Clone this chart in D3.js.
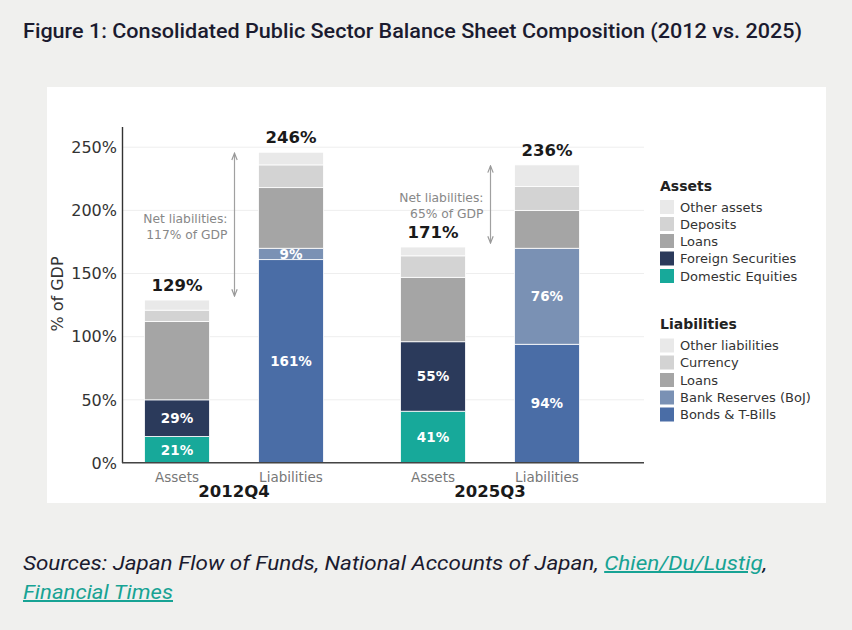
<!DOCTYPE html>
<html><head><meta charset="utf-8">
<script src="https://cdn.jsdelivr.net/npm/d3@7/dist/d3.min.js"></script>
<style>
html,body{margin:0;padding:0;background:#f0f0ee;}
svg{display:block;}
</style></head>
<body>
<svg id="c" width="852" height="630"></svg>
<script>
// ---- data ----
const groups = ["2012Q4", "2025Q3"];
const sides = ["Assets", "Liabilities"];
const assetSeries = ["Domestic Equities", "Foreign Securities", "Loans", "Deposits", "Other assets"];
const liabSeries = ["Bonds & T-Bills", "Bank Reserves (BoJ)", "Loans", "Currency", "Other liabilities"];
const assets2012 = [21, 29, 62, 9, 8];
const liab2012 = [161, 9, 48, 18, 10];
const assets2025 = [41, 55, 51, 17, 7];
const liab2025 = [94, 76, 30, 19, 17];
const netLiab = [117, 65];
const yTicks = [0, 50, 100, 150, 200, 250];
const labeledSegments = [0, 1];

const assetColors = ["#17a99a", "#2b3a5b", "#a5a5a5", "#d3d3d3", "#e9e9e9"];
const liabColors = ["#4a6da6", "#7a91b4", "#a5a5a5", "#d3d3d3", "#e9e9e9"];

const values = { "2012Q4": { Assets: assets2012, Liabilities: liab2012 },
                 "2025Q3": { Assets: assets2025, Liabilities: liab2025 } };

const svg = d3.select("#c");
const font = "DejaVu Sans, sans-serif";

// title
svg.append("text").attr("x", 23).attr("y", 38)
  .attr("font-family", "Roboto, sans-serif").attr("font-size", 20).attr("font-weight", 500)
  .attr("fill", "#1b1b2f")
  .attr("textLength", 779).attr("lengthAdjust", "spacingAndGlyphs")
  .text("Figure 1: Consolidated Public Sector Balance Sheet Composition (2012 vs. 2025)");

// panel
svg.append("rect").attr("x", 47).attr("y", 87).attr("width", 779).attr("height", 416).attr("fill", "#fff");

// scales
const y = d3.scaleLinear().domain([0, 266]).range([463, 127]);
const xg = d3.scaleBand().domain(groups).range([106, 618]);
const xs = d3.scaleBand().domain(sides).range([0, xg.bandwidth()]).paddingInner(0.43).paddingOuter(0.338);

const g = svg.append("g");

// gridlines
g.selectAll("line.grid").data(yTicks).join("line")
  .attr("x1", 122).attr("x2", 644)
  .attr("y1", d => y(d)).attr("y2", d => y(d))
  .attr("stroke", "#eeeeee").attr("stroke-width", 1);

// bars
groups.forEach(grp => {
  sides.forEach(side => {
    const vals = values[grp][side];
    const cols = side === "Assets" ? assetColors : liabColors;
    const x0 = xg(grp) + xs(side);
    const bw = xs.bandwidth();
    let cum = 0;
    const segs = vals.map((v, i) => { const s = { i, y0: cum, y1: cum + v, v, c: cols[i] }; cum += v; return s; });
    g.selectAll(null).data(segs).join("rect")
      .attr("x", x0).attr("width", bw)
      .attr("y", d => y(d.y1)).attr("height", d => y(d.y0) - y(d.y1))
      .attr("fill", d => d.c).attr("stroke", "#fff").attr("stroke-width", 0.8);
    g.selectAll(null).data(segs.filter(d => labeledSegments.includes(d.i))).join("text")
      .attr("x", x0 + bw / 2).attr("y", d => y((d.y0 + d.y1) / 2))
      .attr("dy", "0.36em").attr("text-anchor", "middle")
      .attr("font-family", font).attr("font-weight", "bold").attr("font-size", 13.5)
      .attr("fill", "#fff").text(d => d.v + "%");
    // total
    g.append("text").attr("x", x0 + bw / 2).attr("y", y(cum) - 9)
      .attr("text-anchor", "middle").attr("font-family", font).attr("font-weight", "bold")
      .attr("font-size", 16.5).attr("fill", "#1a1a1a").text(cum + "%");
    // side label
    g.append("text").attr("x", x0 + bw / 2).attr("y", 482)
      .attr("text-anchor", "middle").attr("font-family", font).attr("font-size", 13.5)
      .attr("fill", "#777").text(side);
  });
  // group label
  g.append("text").attr("x", xg(grp) + xg.bandwidth() / 2).attr("y", 497)
    .attr("text-anchor", "middle").attr("font-family", font).attr("font-weight", "bold")
    .attr("font-size", 16.5).attr("fill", "#1a1a1a").text(grp);
});

// net liabilities arrows
const defs = svg.append("defs");
defs.append("marker").attr("id", "ah").attr("viewBox", "0 0 10 10").attr("refX", 9).attr("refY", 5)
  .attr("markerWidth", 7).attr("markerHeight", 7).attr("orient", "auto-start-reverse")
  .append("path").attr("d", "M1,1.8 L9,5 L1,8.2").attr("fill", "none").attr("stroke", "#999").attr("stroke-width", 1.4);

groups.forEach((grp, k) => {
  const ta = d3.sum(values[grp].Assets), tl = d3.sum(values[grp].Liabilities);
  const cx = xg(grp) + xg.bandwidth() / 2 + 0.5;
  g.append("line").attr("x1", cx).attr("x2", cx)
    .attr("y1", y(ta) - 4).attr("y2", y(tl) + 1)
    .attr("stroke", "#a0a0a0").attr("stroke-width", 1.2)
    .attr("marker-start", "url(#ah)").attr("marker-end", "url(#ah)");
  const my = y((ta + tl) / 2);
  const t = g.append("text").attr("text-anchor", "end").attr("font-family", font)
    .attr("font-size", 12.3).attr("fill", "#888");
  t.append("tspan").attr("x", cx - 7).attr("y", my - 8).attr("dy", "0.36em").text("Net liabilities:");
  t.append("tspan").attr("x", cx - 7).attr("y", my + 8).attr("dy", "0.36em").text(netLiab[k] + "% of GDP");
});

// axes
g.append("line").attr("x1", 122.5).attr("x2", 122.5).attr("y1", 127).attr("y2", 463).attr("stroke", "#333").attr("stroke-width", 1.4);
g.append("line").attr("x1", 122).attr("x2", 644).attr("y1", 462.8).attr("y2", 462.8).attr("stroke", "#444").attr("stroke-width", 1.6);
g.selectAll("text.yt").data(yTicks).join("text")
  .attr("x", 117).attr("y", d => y(d)).attr("dy", "0.36em")
  .attr("text-anchor", "end").attr("font-family", font).attr("font-size", 16)
  .attr("fill", "#333").text(d => d + "%");
g.append("text").attr("transform", "translate(63,294) rotate(-90)")
  .attr("text-anchor", "middle").attr("font-family", font).attr("font-size", 16)
  .attr("fill", "#333").text("% of GDP");

// legend
function legend(title, names, cols, ty, rows) {
  g.append("text").attr("x", 660).attr("y", ty).attr("dy", "0.36em")
    .attr("font-family", font).attr("font-weight", "bold").attr("font-size", 14)
    .attr("fill", "#222").text(title);
  const items = names.map((n, i) => ({ n, c: cols[i] })).reverse();
  items.forEach((d, i) => {
    const cy = rows[i];
    g.append("rect").attr("x", 660).attr("y", cy - 7).attr("width", 14).attr("height", 14).attr("fill", d.c);
    g.append("text").attr("x", 680).attr("y", cy).attr("dy", "0.36em")
      .attr("font-family", font).attr("font-size", 13).attr("fill", "#333").text(d.n);
  });
}
legend("Assets", assetSeries, assetColors, 186, [207, 224, 241, 258.5, 276]);
legend("Liabilities", liabSeries, liabColors, 324, [345.5, 362.5, 380, 397.5, 414.5]);

// sources
const s1 = svg.append("text").attr("x", 23).attr("y", 570)
  .attr("font-family", "Roboto, sans-serif").attr("font-style", "italic").attr("font-size", 20)
  .attr("fill", "#1b1b2f").attr("textLength", 744).attr("lengthAdjust", "spacingAndGlyphs");
s1.append("tspan").text("Sources: Japan Flow of Funds, National Accounts of Japan, ");
s1.append("tspan").attr("fill", "#17a394").attr("text-decoration", "underline").text("Chien/Du/Lustig");
s1.append("tspan").text(",");
svg.append("text").attr("x", 23).attr("y", 599)
  .attr("font-family", "Roboto, sans-serif").attr("font-style", "italic").attr("font-size", 20)
  .attr("fill", "#17a394").attr("text-decoration", "underline")
  .attr("textLength", 150).attr("lengthAdjust", "spacingAndGlyphs")
  .text("Financial Times");
</script>
</body></html>
